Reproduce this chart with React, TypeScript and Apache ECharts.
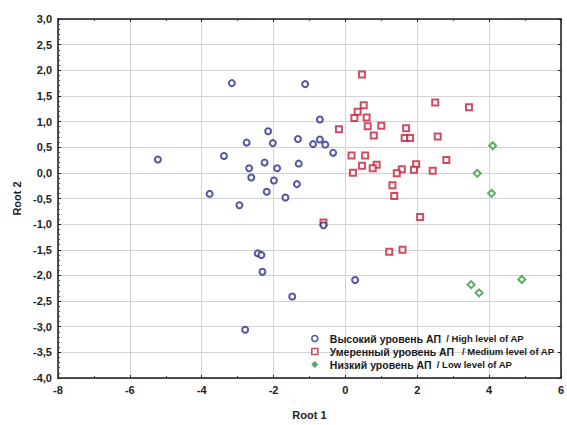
import React, { useEffect, useRef } from "react";
import * as echarts from "echarts";

const highLevel: [number, number][] = [
  [-5.22, 0.26], [-3.16, 1.75], [-1.12, 1.73], [-0.71, 1.04], [-2.15, 0.81],
  [-2.75, 0.59], [-2.02, 0.58], [-1.32, 0.66], [-0.9, 0.56], [-0.71, 0.65],
  [-0.56, 0.55], [-0.34, 0.39], [-3.38, 0.33], [-2.25, 0.2], [-1.3, 0.18],
  [-2.68, 0.09], [-1.9, 0.09], [-2.62, -0.09], [-1.99, -0.15], [-1.35, -0.22],
  [-2.19, -0.37], [-3.78, -0.41], [-1.67, -0.48], [-2.95, -0.63], [-0.61, -1.02],
  [-2.44, -1.57], [-2.34, -1.6], [-2.31, -1.93], [0.27, -2.09], [-1.48, -2.41],
  [-2.79, -3.06],
];

const mediumLevel: [number, number][] = [
  [0.46, 1.92], [0.51, 1.32], [0.34, 1.19], [0.25, 1.07], [0.59, 1.08],
  [-0.18, 0.85], [0.62, 0.91], [1.0, 0.92], [0.79, 0.73], [1.69, 0.87],
  [1.65, 0.68], [1.8, 0.68], [0.17, 0.34], [0.55, 0.34], [0.46, 0.14],
  [0.87, 0.16], [0.76, 0.09], [0.21, 0.0], [1.97, 0.17], [1.91, 0.06],
  [1.57, 0.07], [1.43, -0.01], [2.5, 1.37], [3.44, 1.28], [2.57, 0.71],
  [2.81, 0.25], [2.43, 0.04], [1.31, -0.24], [1.36, -0.45], [2.08, -0.86],
  [1.22, -1.54], [1.59, -1.5], [-0.61, -0.97],
];

const lowLevel: [number, number][] = [
  [4.1, 0.53], [3.67, -0.01], [4.07, -0.4], [3.5, -2.18], [3.72, -2.34], [4.91, -2.08],
];

const seriesNamesRu = ["Высокий уровень АП", "Умеренный уровень АП", "Низкий уровень АП"];
const seriesNamesEn = ["/ High level of AP", "/ Medium level of AP", "/ Low level of AP"];
const legendGaps = ["  ", "   ", "  "];
const xTitle = "Root 1";
const yTitle = "Root 2";

const FONT = "'Liberation Sans', Arial, sans-serif";

export default function App() {
  const ref = useRef<HTMLDivElement>(null);
  useEffect(() => {
    if (!ref.current) return;
    const chart = echarts.init(ref.current, null, { renderer: "svg" });
    const colors = ["#2b2a8f", "#c41f3a", "#2f9a3c"];
    const symbols = ["circle", "rect", "diamond"];
    const datasets = [highLevel, mediumLevel, lowLevel];
    const yFmt = (v: number) => v.toFixed(1).replace(".", ",");
    const axisLine = { show: true, onZero: false, lineStyle: { color: "#1a1a1a", width: 1.5 } };
    const tick = { inside: true, length: 3, lineStyle: { color: "#222" } };
    const labelStyle = { fontFamily: FONT, fontSize: 11, fontWeight: "bold", color: "#222" };
    const option: any = {
      animation: false,
      backgroundColor: "#ffffff",
      grid: { left: 58, right: 4, top: 19, bottom: 39 },
      xAxis: [
        {
          type: "value", min: -8, max: 6, interval: 2,
          name: xTitle, nameLocation: "middle", nameGap: 31,
          nameTextStyle: labelStyle,
          axisLine, axisTick: tick,
          minorTick: { show: true, splitNumber: 2, length: 2, lineStyle: { color: "#444" } },
          axisLabel: { ...labelStyle, margin: 6, showMaxLabel: true, showMinLabel: true },
          splitLine: { show: true, lineStyle: { color: "#cfd3d6", width: 1 } },
        },
        {
          type: "value", min: -8, max: 6, interval: 2, position: "top",
          axisLine, axisTick: tick,
          minorTick: { show: true, splitNumber: 2, length: 2, lineStyle: { color: "#444" } },
          axisLabel: { show: false }, splitLine: { show: false },
        },
      ],
      yAxis: [
        {
          type: "value", min: -4, max: 3, interval: 0.5,
          name: yTitle, nameLocation: "middle", nameGap: 36, nameRotate: 90,
          nameTextStyle: labelStyle,
          axisLine, axisTick: tick,
          minorTick: { show: true, splitNumber: 5, length: 2, lineStyle: { color: "#444" } },
          axisLabel: { ...labelStyle, margin: 6, formatter: yFmt },
          splitLine: { show: true, lineStyle: { color: "#cfd3d6", width: 1 } },
        },
        {
          type: "value", min: -4, max: 3, interval: 0.5, position: "right",
          axisLine, axisTick: tick,
          axisLabel: { show: false }, splitLine: { show: false },
        },
      ],
      legend: {
        orient: "vertical", left: 306, top: 328, itemGap: 2,
        itemWidth: 6, itemHeight: 6,
        data: seriesNamesRu.map((n, i) => ({
          name: n,
          icon: symbols[i],
          itemStyle: i === 2
            ? { color: colors[i], borderColor: colors[i], borderWidth: 1 }
            : { color: "#ffffff", borderColor: colors[i], borderWidth: 1.6 },
        })),
        formatter: (name: string) => {
          const i = seriesNamesRu.indexOf(name);
          return `{ru|${name}}{en|${legendGaps[i]}${seriesNamesEn[i]}}`;
        },
        textStyle: {
          rich: {
            ru: { fontFamily: FONT, fontSize: 10.5, fontWeight: "bold", color: "#1a1a1a", lineHeight: 12, padding: [0, 0, 0, 7] },
            en: { fontFamily: FONT, fontSize: 9.5, fontWeight: "bold", color: "#1a1a1a", lineHeight: 12 },
          },
        },
      },
      series: datasets.map((d, i) => ({
        type: "scatter",
        name: seriesNamesRu[i],
        data: d,
        symbol: symbols[i],
        symbolSize: i === 2 ? 7 : 6,
        itemStyle: { color: "#ffffff", borderColor: colors[i], borderWidth: 2 },
        z: 2 + (i === 0 ? 1 : 0),
      })),
    };
    chart.setOption(option);
    return () => chart.dispose();
  }, []);
  return (
    <div style={{ position: "fixed", left: 0, top: 0, width: 567, height: 425, overflow: "hidden" }}>
      <div ref={ref} style={{ width: 567, height: 425 }} />
    </div>
  );
}
